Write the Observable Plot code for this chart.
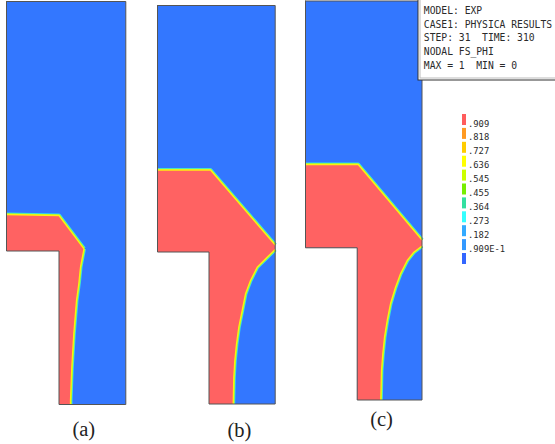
<!DOCTYPE html>
<html>
<head>
<meta charset="utf-8">
<script src="https://cdn.jsdelivr.net/npm/d3@7"></script>
<script src="https://cdn.jsdelivr.net/npm/@observablehq/plot@0.6"></script>
<style>
  html, body { margin: 0; padding: 0; background: #fff; }
  svg { display: block; }
</style>
</head>
<body>
<script>
// Panel labels
const panelNames = ["(a)", "(b)", "(c)"];

// Domain outlines (image units), one per panel
const outlineA = [[6,1],[125.3,1],[125.3,404],[58.5,404],[58.5,250.5],[6,250.5]];
const outlineB = [[157,5],[274.7,5],[274.7,403.5],[208.5,403.5],[208.5,251.5],[157,251.5]];
const outlineC = [[305,0.5],[421.5,0.5],[421.5,399.5],[356.7,399.5],[356.7,247.3],[305,247.3]];

// Upper solid/liquid interface (FS_PHI = 0.5 contour)
const topA = [[6,214],[58.5,215],[83.5,248.3]];
const topB = [[157,169.5],[210,169.5],[274.7,244.5]];
const topC = [[305,164],[357.7,164],[421.5,239.5]];

// Lower interface, from tip down to the bottom of the stem
const botA = [[83.5,248.3],[80,266.7],[78.3,283.3],[76,300],[73.3,333],[71.3,366.7],[70,400],[70,404]];
const botB = [[274.7,249],[266.7,256.7],[256.7,266.7],[250,280],[245,293.3],[241.7,310],[238.3,326.7],[236,343.3],[234.3,360],[233.3,376.7],[232.7,403.5]];
const botC = [[421.5,245.5],[413.3,251.7],[406.7,260],[400,273.3],[395,286.7],[390,303.3],[386.7,320],[384,336.7],[382.3,353.3],[381,370],[380.3,399.5]];

// Info box text
const boxLines = ["MODEL: EXP", "CASE1: PHYSICA RESULTS", "STEP: 31  TIME: 310", "NODAL FS_PHI", "MAX = 1  MIN = 0"];

// Contour legend
const legendLabels = [".909", ".818", ".727", ".636", ".545", ".455", ".364", ".273", ".182", ".909E-1", ""];
const legendColors = ["#ff5c5c", "#ff9a22", "#ffcc00", "#ffff00", "#ccff00", "#77ee00", "#33e0a0", "#33ffff", "#33aaff", "#3399ff", "#3366ff"];

const BLUE = "#3377ff", RED = "#ff6262";

// ---- build tables ----
const outlines = [outlineA, outlineB, outlineC];
const tops = [topA, topB, topC];
const bots = [botA, botB, botC];

const toRows = (pts, id) => pts.map(([x, y]) => ({id, x, y}));

const domainRows = outlines.flatMap((o, i) => toRows([...o, o[0]], panelNames[i]));
const redRows = outlines.flatMap((o, i) => {
  // solid region: top interface, lower interface, then along the stem/notch walls
  const poly = [...tops[i], ...bots[i], [o[3][0], o[3][1]], [o[4][0], o[4][1]], [o[5][0], o[5][1]]];
  return toRows(poly, panelNames[i]);
});
const ifaceRows = [
  ...tops.flatMap((t, i) => toRows(t, "top" + i)),
  ...bots.flatMap((b, i) => toRows(b, "bot" + i))
];

const iface = (stroke, w) => Plot.line(ifaceRows, {x: "x", y: "y", z: "id", stroke, strokeWidth: w, strokeLinejoin: "round", strokeLinecap: "butt"});

const chart = Plot.plot({
  width: 555,
  height: 444,
  margin: 0,
  x: {domain: [0, 555], axis: null},
  y: {domain: [0, 444], range: [0, 444], axis: null},
  color: {type: "identity"},
  style: {background: "#fff"},
  marks: [
    // liquid (blue) domain
    Plot.line(domainRows, {x: "x", y: "y", z: "id", fill: BLUE, stroke: "none"}),
    // diffuse interface band
    iface("#33ddee", 4.0),
    iface("#99ff33", 2.6),
    // solid (red) region
    Plot.line(redRows, {x: "x", y: "y", z: "id", fill: RED, stroke: "none"}),
    iface("#ffee11", 1.3),
    // domain outline
    Plot.line(domainRows, {x: "x", y: "y", z: "id", stroke: "#555", strokeWidth: 1, fill: "none"}),
    // panel labels
    Plot.text(panelNames, {
      x: (d, i) => [83.3, 239, 381][i],
      y: (d, i) => [435.5, 436.5, 425][i],
      text: d => d,
      lineAnchor: "bottom",
      fontFamily: "Liberation Serif",
      fontSize: 20.5,
      fill: "#222"
    }),
    // info box
    Plot.rect([0], {x1: 418, x2: 560, y1: -2, y2: 80, fill: "#fff", stroke: "#333", strokeWidth: 1}),
    Plot.rect([0], {x1: 420, x2: 560, y1: -2, y2: 78, fill: "none", stroke: "#bbb", strokeWidth: 1}),
    Plot.text(boxLines, {
      x: 423.3,
      y: (d, i) => 13.3 + i * 13.75,
      text: d => d,
      textAnchor: "start",
      lineAnchor: "bottom",
      fontFamily: "DejaVu Sans Mono",
      fontSize: 9.7,
      fill: "#2a2a2a"
    }),
    // legend swatches
    Plot.rect(legendColors, {
      x1: 462, x2: 466,
      y1: (d, i) => 114 + i * 13.9,
      y2: (d, i) => 125 + i * 13.9,
      fill: d => d
    }),
    Plot.text(legendLabels, {
      x: 467.5,
      y: (d, i) => 126 + i * 13.9,
      text: d => d,
      textAnchor: "start",
      lineAnchor: "bottom",
      fontFamily: "DejaVu Sans Mono",
      fontSize: 8.8,
      fill: "#2a2a2a"
    })
  ]
});

document.body.appendChild(chart);
</script>
</body>
</html>
